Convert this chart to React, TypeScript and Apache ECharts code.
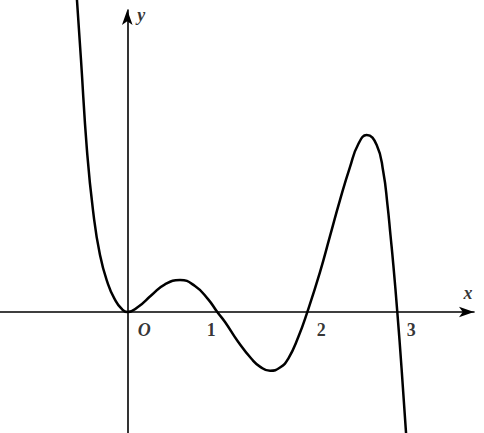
import { useEffect, useRef } from "react";
import * as echarts from "echarts";

// points (x, y in axis units)
const curveX = [
  -0.559, -0.514, -0.448, -0.381, -0.303, -0.214, -0.137, -0.064, 0, 0.122, 0.271, 0.419, 0.586, 0.752, 0.897, 1.0,
  1.086, 1.233, 1.382, 1.474, 1.586, 1.697, 1.789, 1.9, 2.0, 2.141, 2.252, 2.363, 2.474, 2.567, 2.66, 2.771, 2.844,
  2.891, 2.924, 2.956, 3.0, 3.047, 3.097,
];
const curveY = [
  3.467, 2.8, 1.8, 1.133, 0.633, 0.311, 0.139, 0.037, 0, 0.059, 0.189, 0.308, 0.356, 0.289, 0.144, 0, -0.111, -0.333,
  -0.522, -0.606, -0.652, -0.617, -0.517, -0.278, 0, 0.444, 0.844, 1.244, 1.611, 1.867, 1.967, 1.856, 1.559, 1.189,
  0.856, 0.522, 0, -0.622, -1.344,
];

const tickValues = [1, 2, 3];
const tickLabels = ["1", "2", "3"];
const tickOffsets = [
  [-6, 18],
  [14, 18],
  [14, 18],
];

const xRange = [-1.414, 3.852];
const yRange = [-1.344, 3.356];

const serif = "'Liberation Serif', 'Times New Roman', serif";

export default function App() {
  const ref = useRef<HTMLDivElement | null>(null);

  useEffect(() => {
    if (!ref.current) return;
    const chart = echarts.init(ref.current, null, { renderer: "svg" });

    const labelData: any[] = tickValues.map((v, i) => ({
      value: [v, 0],
      label: { formatter: tickLabels[i], offset: tickOffsets[i], fontStyle: "normal" },
    }));
    labelData.push({ value: [0, 0], label: { formatter: "O", offset: [17, 18] } });
    labelData.push({ value: [xRange[1], 0], label: { formatter: "x", offset: [-6, -19] } });
    labelData.push({ value: [0, yRange[1]], label: { formatter: "y", offset: [14, 5] } });

    const axisLine = {
      onZero: true,
      symbol: ["none", "arrow"],
      symbolSize: [8, 15],
      lineStyle: { color: "#000", width: 1.6 },
    };

    chart.setOption({
      animation: false,
      grid: { left: 0, right: 10, top: 10, bottom: 0 },
      xAxis: {
        type: "value",
        min: xRange[0],
        max: xRange[1],
        axisLine,
        axisTick: { show: false },
        axisLabel: { show: false },
        splitLine: { show: false },
      },
      yAxis: {
        type: "value",
        min: yRange[0],
        max: yRange[1],
        axisLine,
        axisTick: { show: false },
        axisLabel: { show: false },
        splitLine: { show: false },
      },
      series: [
        {
          type: "line",
          data: curveX.map((x, i) => [x, curveY[i]]),
          smooth: 0.5,
          showSymbol: false,
          clip: false,
          lineStyle: { color: "#000", width: 2.5 },
          z: 3,
        },
        {
          type: "scatter",
          data: labelData,
          symbolSize: 0,
          silent: true,
          label: {
            show: true,
            position: "inside",
            color: "#000",
            fontFamily: serif,
            fontWeight: "bold",
            fontStyle: "italic",
            fontSize: 18,
          },
        },
      ],
    });

    return () => chart.dispose();
  }, []);

  return <div ref={ref} style={{ position: "fixed", left: 0, top: 0, width: 484, height: 433, background: "#fff" }} />;
}
